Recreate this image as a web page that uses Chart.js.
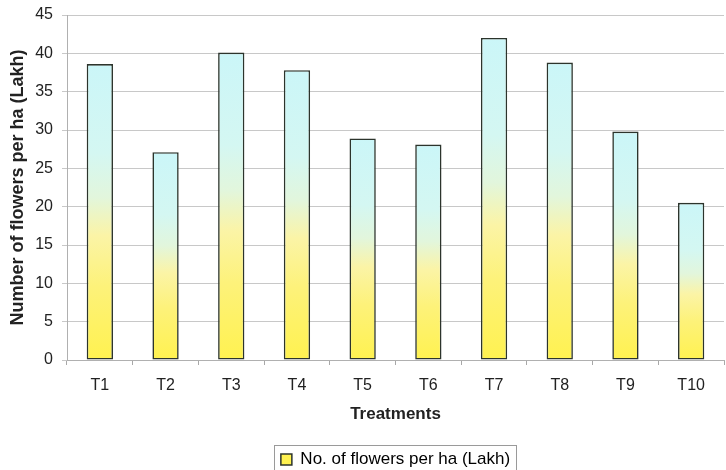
<!DOCTYPE html>
<html>
<head>
<meta charset="utf-8">
<script src="https://cdn.jsdelivr.net/npm/chart.js@4/dist/chart.umd.min.js"></script>
<style>
  html, body { margin: 0; padding: 0; background: #fff; }
  #wrap { width: 726px; height: 470px; overflow: hidden; }
</style>
</head>
<body>
<div id="wrap"><canvas id="c" width="726" height="470"></canvas></div>
<script>
const treatments = ['T1', 'T2', 'T3', 'T4', 'T5', 'T6', 'T7', 'T8', 'T9', 'T10'];
const flowersPerHa = [38.6, 27.1, 40.1, 37.8, 28.9, 28.1, 42.0, 38.8, 29.8, 20.5];
const seriesLabel = 'No. of flowers per ha (Lakh)';
const yTicks = [0, 5, 10, 15, 20, 25, 30, 35, 40, 45];

const FONT = '"Liberation Sans", Arial, sans-serif';

// Each bar gets its own vertical fill: yellow at the base, pale cyan at the top.
function barFill(ctx) {
  const chart = ctx.chart;
  if (!chart.chartArea || ctx.type !== 'data') return '#fdf46a';
  const y = chart.scales.y;
  const top = y.getPixelForValue(ctx.raw);
  const base = y.getPixelForValue(0);
  if (!isFinite(top) || !isFinite(base) || top === base) return '#fdf46a';
  const g = chart.ctx.createLinearGradient(0, base, 0, top);
  g.addColorStop(0, '#fff250');
  g.addColorStop(0.25, '#fdf27a');
  g.addColorStop(0.42, '#fbf4a6');
  g.addColorStop(0.55, '#e2f6dc');
  g.addColorStop(0.7, '#d4f7f2');
  g.addColorStop(1, '#cbf6f8');
  return g;
}

// Thin frame around the legend entry.
const legendFrame = {
  id: 'legendFrame',
  afterDraw(chart) {
    const boxes = chart.legend && chart.legend.legendHitBoxes;
    if (!boxes || !boxes.length) return;
    const b = boxes[0];
    const c = chart.ctx;
    c.save();
    c.strokeStyle = '#9a9a9a';
    c.lineWidth = 1;
    c.strokeRect(Math.round(b.left) - 6.5, Math.round(b.top) - 5.5, Math.round(b.width) + 13, Math.round(b.height) + 14);
    c.restore();
  }
};

new Chart(document.getElementById('c'), {
  type: 'bar',
  data: {
    labels: treatments,
    datasets: [{
      label: seriesLabel,
      data: flowersPerHa,
      backgroundColor: barFill,
      borderColor: '#2c342c',
      borderWidth: 1.6,
      borderSkipped: false,
      barPercentage: 0.4,
      categoryPercentage: 1.0
    }]
  },
  options: {
    responsive: false,
    animation: false,
    devicePixelRatio: 1,
    layout: { padding: { top: 15, right: 2, left: 0, bottom: -8 } },
    plugins: {
      tooltip: { enabled: false },
      legend: {
        position: 'bottom',
        fullSize: false,
        labels: {
          font: { family: FONT, size: 17 },
          color: '#111',
          boxWidth: 11,
          boxHeight: 11,
          padding: 4,
          generateLabels() {
            return [{
              text: seriesLabel,
              fillStyle: '#fff250',
              strokeStyle: '#2c342c',
              lineWidth: 1.5,
              hidden: false,
              datasetIndex: 0
            }];
          }
        }
      }
    },
    scales: {
      x: {
        grid: {
          offset: true,
          drawOnChartArea: false,
          color: '#a8a8a8',
          tickLength: 5
        },
        border: { display: true, color: '#b0b0b0' },
        ticks: { font: { family: FONT, size: 16 }, color: '#222', padding: 11 },
        title: {
          display: true,
          text: 'Treatments',
          font: { family: FONT, size: 17, weight: 'bold' },
          color: '#222',
          padding: { top: 0, bottom: 22 }
        },
        afterFit(axis) { axis.height = 87; }
      },
      y: {
        min: 0,
        max: 45,
        afterBuildTicks(axis) { axis.ticks = yTicks.map(v => ({ value: v })); },
        grid: { color: '#c8c8c8', tickLength: 5, lineWidth: 1 },
        border: { display: true, color: '#b0b0b0' },
        ticks: { font: { family: FONT, size: 16 }, color: '#222', padding: 9 },
        title: {
          display: true,
          text: 'Number of flowers per ha (Lakh)',
          font: { family: FONT, size: 18, weight: 'bold' },
          color: '#222',
          padding: { top: 7, bottom: 4 }
        },
        afterFit(axis) {
          axis.width = 67;
          axis.paddingTop = 0;
        }
      }
    }
  },
  plugins: [legendFrame]
});
</script>
</body>
</html>
